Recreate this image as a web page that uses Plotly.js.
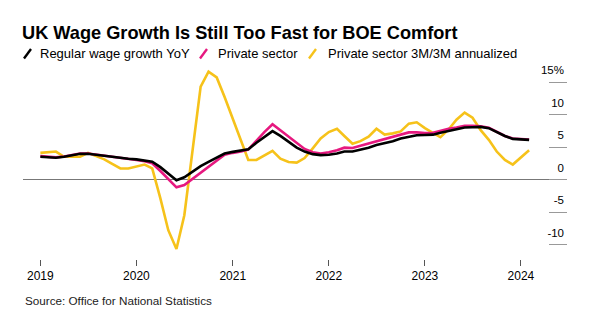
<!DOCTYPE html>
<html><head><meta charset="utf-8">
<script src="https://cdn.plot.ly/plotly-3.0.1.min.js"></script>
<style>html,body{margin:0;padding:0;background:#fff;}#chart{width:600px;height:325px;}</style>
</head><body><div id="chart"></div>
<script>
// ---- data ----
const months = [
  "2018-12",
  "2019-01","2019-02","2019-03","2019-04","2019-05","2019-06","2019-07","2019-08","2019-09","2019-10","2019-11","2019-12",
  "2020-01","2020-02","2020-03","2020-04","2020-05","2020-06","2020-07","2020-08","2020-09","2020-10","2020-11","2020-12",
  "2021-01","2021-02","2021-03","2021-04","2021-05","2021-06","2021-07","2021-08","2021-09","2021-10","2021-11","2021-12",
  "2022-01","2022-02","2022-03","2022-04","2022-05","2022-06","2022-07","2022-08","2022-09","2022-10","2022-11","2022-12",
  "2023-01","2023-02","2023-03","2023-04","2023-05","2023-06","2023-07","2023-08","2023-09","2023-10","2023-11","2023-12",
  "2024-01"
];
const regularYoY = [
  3.5,
  3.4,3.35,3.5,3.7,3.95,3.95,3.8,3.6,3.4,3.3,3.2,3.1,
  2.95,2.75,1.9,0.9,-0.1,0.35,1.2,2.05,2.7,3.4,4.0,4.25,
  4.45,4.65,5.65,6.55,7.45,6.7,5.8,4.9,4.3,3.9,3.75,3.8,
  4.0,4.3,4.3,4.55,4.9,5.3,5.55,5.9,6.3,6.6,6.8,6.85,
  6.9,7.2,7.5,7.8,8.0,8.05,8.1,7.9,7.3,6.7,6.25,6.2,
  6.1
];
const privateYoY = [
  3.6,
  3.5,3.4,3.55,3.75,4.0,4.0,3.85,3.65,3.45,3.3,3.15,3.0,
  2.8,2.5,1.3,0.0,-1.2,-0.85,0.1,1.1,2.0,2.9,3.8,4.1,
  4.3,4.6,6.0,7.3,8.5,7.6,6.6,5.6,4.7,4.2,4.0,4.2,
  4.5,4.9,4.85,5.2,5.55,5.9,6.2,6.5,6.9,7.25,7.25,7.15,
  7.2,7.5,7.8,8.0,8.25,8.25,8.2,7.95,7.3,6.7,6.3,6.25,
  6.15
];
const private3m3m = [
  4.1,
  4.2,4.3,3.5,3.5,3.5,4.1,3.6,3.1,2.4,1.7,1.7,2.0,
  2.3,1.7,-2.9,-7.8,-10.7,-5.5,4.0,14.3,16.6,15.7,12.7,9.4,
  6.1,3.0,3.0,3.7,4.4,3.2,2.7,2.6,3.3,4.8,6.3,7.3,
  7.8,6.7,5.5,5.9,6.6,7.8,6.9,7.1,7.4,8.6,8.8,7.9,
  7.1,6.5,7.7,9.2,10.3,9.5,7.6,6.1,4.3,3.0,2.3,3.4,
  4.5
];
const seriesNames = ["Regular wage growth YoY","Private sector","Private sector 3M/3M annualized"];
const seriesColors = ["#000000","#e6187f","#f6c21a"];
const xTickVals = ["2019-01-01","2020-01-01","2021-01-01","2022-01-01","2023-01-01","2024-01-01"];
const xTickText = ["2019","2020","2021","2022","2023","2024"];
const yTickVals = [-10,-5,0,5,10,15];
const yTickText = ["-10","-5","0","5","10","15%"];
const titleText = "UK Wage Growth Is Still Too Fast for BOE Comfort";
const sourceText = "Source: Office for National Statistics";

// ---- layout helpers ----
const W = 600, H = 325;
const M = {l: 23, r: 33, t: 69, b: 66};
const PW = W - M.l - M.r, PH = H - M.t - M.b;
const px = x => (x - M.l) / PW;
const py = y => (H - M.b - y) / PH;
const FONT = "Liberation Sans, Arial, Helvetica, sans-serif";

const seriesData = [regularYoY, privateYoY, private3m3m];
const order = [2, 1, 0];
const traces = order.map(k => ({
  type: "scatter", mode: "lines", x: months, y: seriesData[k],
  xperiod: "M1", xperiodalignment: "end",
  name: seriesNames[k],
  line: {color: seriesColors[k], width: 2.6},
  hoverinfo: "skip"
}));

const legendIconX = [24, 200, 309];
const legendTextX = [38, 216, 326];
const shapes = legendIconX.map((x, k) => ({
  type: "line", xref: "paper", yref: "paper",
  x0: px(x), y0: py(58.5), x1: px(x + 7), y1: py(49),
  line: {color: seriesColors[k], width: 2.4}
}));
const annotations = legendTextX.map((x, k) => ({
  xref: "paper", yref: "paper", x: px(x), y: py(53.5),
  xanchor: "left", yanchor: "middle", showarrow: false,
  text: seriesNames[k], font: {family: FONT, size: 13, color: "#000"}
}));
annotations.push({
  xref: "paper", yref: "paper", x: px(23), y: py(300),
  xanchor: "left", yanchor: "middle", showarrow: false,
  text: sourceText, font: {family: FONT, size: 11.7, color: "#222"}
});

const layout = {
  width: W, height: H, margin: M,
  paper_bgcolor: "#fff", plot_bgcolor: "#fff",
  showlegend: false,
  font: {family: FONT, color: "#000"},
  title: {
    text: "<b>" + titleText + "</b>",
    font: {family: FONT, size: 18.2, color: "#000"},
    xref: "container", yref: "container",
    x: 22 / W, xanchor: "left", y: 1 - 33 / H, yanchor: "middle"
  },
  xaxis: {
    type: "date",
    range: ["2018-10-27", "2024-06-24"],
    tickvals: xTickVals, ticktext: xTickText,
    ticks: "outside", ticklen: 6, tickcolor: "#555", tickwidth: 1,
    showgrid: false, showline: false, zeroline: false,
    tickfont: {family: FONT, size: 12, color: "#000"}
  },
  yaxis: {
    side: "right",
    range: [-12.23, 17.0],
    tickvals: yTickVals, ticktext: yTickText,
    ticks: "inside", ticklen: 18, tickcolor: "#999", tickwidth: 1,
    ticklabelposition: "inside top", ticklabeloverflow: "allow",
    ticklabelshift: -3,
    showgrid: false, showline: false,
    zeroline: true, zerolinecolor: "#777", zerolinewidth: 1,
    tickfont: {family: FONT, size: 11.5, color: "#000"}
  },
  shapes: shapes,
  annotations: annotations
};

Plotly.newPlot("chart", traces, layout, {displayModeBar: false, staticPlot: true});
</script>
</body></html>
